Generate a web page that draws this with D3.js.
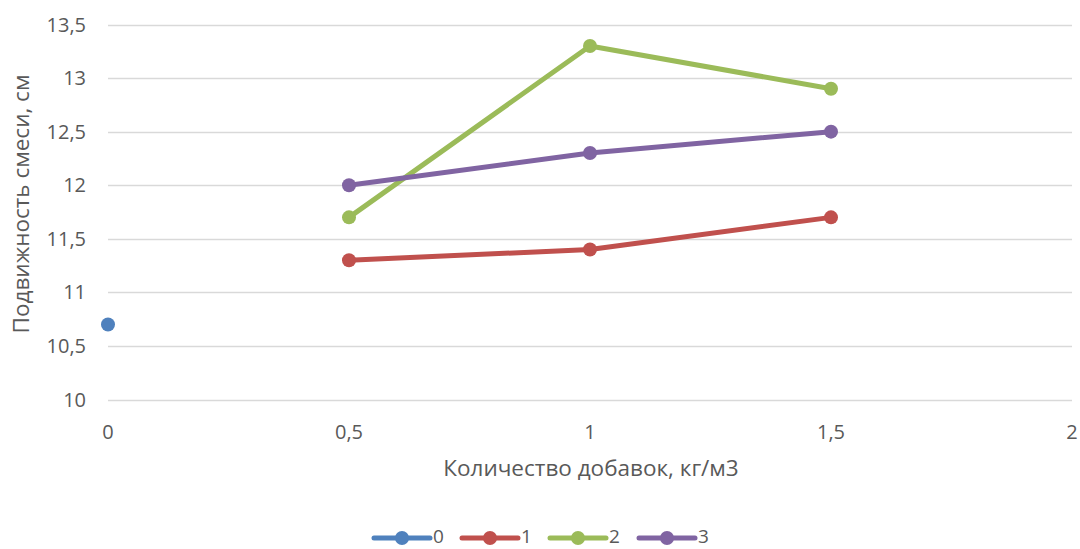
<!DOCTYPE html>
<html><head><meta charset="utf-8">
<script src="https://cdn.jsdelivr.net/npm/d3@7"></script>
<style>
html,body{margin:0;padding:0;background:#fff;}
text{font-family:"Open Sans","Liberation Sans",sans-serif;fill:#595959;}
</style></head>
<body>
<svg id="chart" width="1080" height="549"></svg>
<script>
// Additive dosage, kg/m3
const xTicks = [0, 0.5, 1, 1.5, 2];
const yTicks = [10, 10.5, 11, 11.5, 12, 12.5, 13, 13.5];
const seriesNames = ["0", "1", "2", "3"];
const series0 = [{x: 0, y: 10.7}];
const series1 = [{x: 0.5, y: 11.3}, {x: 1, y: 11.4}, {x: 1.5, y: 11.7}];
const series2 = [{x: 0.5, y: 11.7}, {x: 1, y: 13.3}, {x: 1.5, y: 12.9}];
const series3 = [{x: 0.5, y: 12.0}, {x: 1, y: 12.3}, {x: 1.5, y: 12.5}];
const colors = ["#4F81BD", "#C0504D", "#9BBB59", "#8064A2"];
const xTitle = "Количество добавок, кг/м3";
const yTitle = "Подвижность смеси, см";

(function () {
  const allSeries = [series0, series1, series2, series3];
  const svg = d3.select("#chart");
  const pLeft = 108, pRight = 1072, pTop = 24.5, pBottom = 399.5;

  const x = d3.scaleLinear().domain([0, 2]).range([pLeft, pRight]);
  const y = d3.scaleLinear().domain([10, 13.5]).range([pBottom, pTop]);

  // horizontal gridlines
  svg.append("g").selectAll("line").data(yTicks).join("line")
    .attr("x1", pLeft).attr("x2", pRight)
    .attr("y1", d => Math.round(y(d)) + 0.5).attr("y2", d => Math.round(y(d)) + 0.5)
    .attr("stroke", "#d9d9d9").attr("stroke-width", 1.3);

  const fmt = d => String(d).replace(".", ",");

  // y tick labels
  svg.append("g").selectAll("text").data(yTicks).join("text")
    .attr("x", 86).attr("y", d => y(d)).attr("dy", "0.35em")
    .attr("text-anchor", "end").attr("font-size", 20).text(fmt);

  // x tick labels
  svg.append("g").selectAll("text").data(xTicks).join("text")
    .attr("x", d => x(d)).attr("y", 432).attr("dy", "0.35em")
    .attr("text-anchor", "middle").attr("font-size", 20).text(fmt);

  // axis titles
  svg.append("text").attr("x", 591).attr("y", 468).attr("dy", "0.35em")
    .attr("text-anchor", "middle").attr("font-size", 22.5).text(xTitle);
  svg.append("text").attr("transform", "translate(21,204) rotate(-90)")
    .attr("dy", "0.35em").attr("text-anchor", "middle").attr("font-size", 22.5).text(yTitle);

  const line = d3.line().x(d => x(d.x)).y(d => y(d.y));

  allSeries.forEach((s, i) => {
    const g = svg.append("g");
    g.append("path").datum(s).attr("d", line).attr("fill", "none")
      .attr("stroke", colors[i]).attr("stroke-width", 5).attr("stroke-linejoin", "round");
    g.selectAll("circle").data(s).join("circle")
      .attr("cx", d => x(d.x)).attr("cy", d => y(d.y)).attr("r", 7)
      .attr("fill", colors[i]);
  });

  // legend
  const legendX = [374, 462, 550, 639];
  const leg = svg.append("g");
  seriesNames.forEach((name, i) => {
    const lx = legendX[i], ly = 538;
    leg.append("line").attr("x1", lx).attr("x2", lx + 56).attr("y1", ly).attr("y2", ly)
      .attr("stroke", colors[i]).attr("stroke-width", 5).attr("stroke-linecap", "round");
    leg.append("circle").attr("cx", lx + 28).attr("cy", ly).attr("r", 7).attr("fill", colors[i]);
    leg.append("text").attr("x", lx + 59).attr("y", ly - 1.5).attr("dy", "0.35em")
      .attr("font-size", 19).text(name);
  });
})();
</script>
</body></html>
